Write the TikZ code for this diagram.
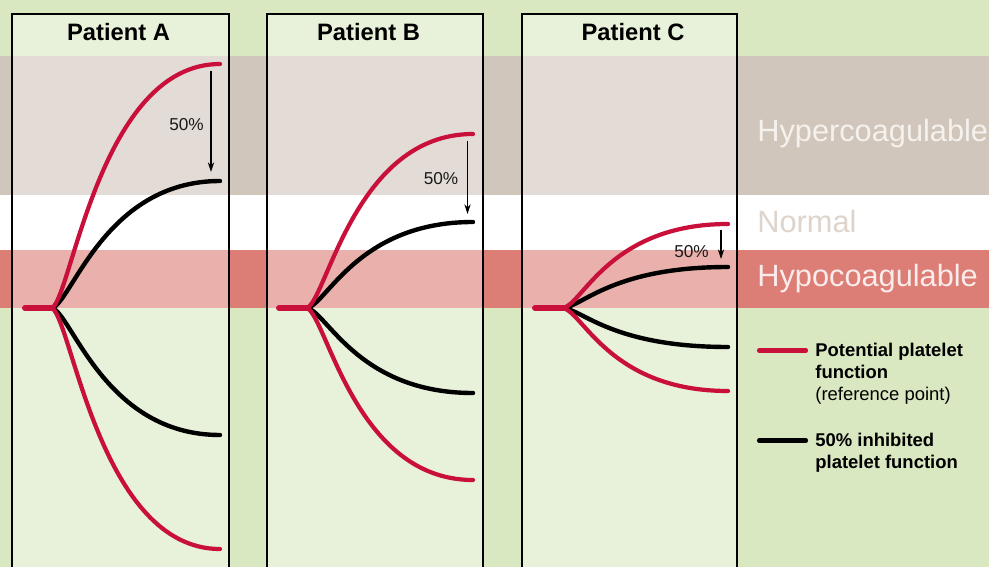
\documentclass[tikz,border=0pt]{standalone}
\usepackage{fontspec}
\setmainfont{Liberation Sans}
\usetikzlibrary{arrows.meta}
\definecolor{bggreen}{RGB}{217,232,193}
\definecolor{hyperbg}{RGB}{209,198,188}
\definecolor{hypobg}{RGB}{220,125,118}
\definecolor{potred}{RGB}{200,16,58}
\definecolor{normtxt}{RGB}{222,212,203}
\definecolor{hypertxt}{RGB}{245,241,237}
\definecolor{hypotxt}{RGB}{250,236,234}

\begin{document}
\begin{tikzpicture}[x=0.02cm,y=-0.02cm,
    pot/.style={draw=potred,line width=2.4pt,line cap=round},
    inh/.style={draw=black,line width=2.5pt,line cap=round},
    stem/.style={draw=potred,line width=3.4pt,line cap=round},
    panel/.style={draw=black,line width=0.6pt},
    zone/.style={anchor=base west,inner sep=0pt,font=\fontsize{17.5}{20}\selectfont},
    title/.style={anchor=base,inner sep=0pt,font=\fontsize{13.5}{16}\selectfont\bfseries},
    pct/.style={anchor=base,inner sep=0pt,text=black!90,font=\fontsize{9.8}{11}\selectfont},
    legtxt/.style={anchor=base west,inner sep=0pt,font=\fontsize{10.5}{12}\selectfont\bfseries},
    drop/.style={draw=black,line width=0.6pt,-{Stealth[length=5.5pt,width=3.6pt]}}]
    \useasboundingbox (0,0) rectangle (989,567);
    % Zones
    \fill[bggreen] (0,0) rectangle (989,567);
    \fill[hyperbg] (0,56) rectangle (989,195);
    \fill[white] (0,195) rectangle (989,250);
    \fill[hypobg] (0,250) rectangle (989,308);
    \node[zone,text=hypertxt] (hyper) at (757,142) {Hypercoagulable};
    \node[zone,text=normtxt] (normal) at (757,233) {Normal};
    \node[zone,text=hypotxt] (hypo) at (757,286) {Hypocoagulable};
    % Panneaux
    \fill[white,opacity=0.4] (12,14) rectangle (229,567);
    \fill[white,opacity=0.4] (267,14) rectangle (483,567);
    \fill[white,opacity=0.4] (522,14) rectangle (737,567);
    \draw[panel] (12,567) |- (229,14) -- (229,567);
    \draw[panel] (267,567) |- (483,14) -- (483,567);
    \draw[panel] (522,567) |- (737,14) -- (737,567);
    \node[title] (tA) at (118.5,41) {Patient A};
    \node[title] (tB) at (368.5,41) {Patient B};
    \node[title] (tC) at (633,41) {Patient C};
    % Patient A
    \coordinate (As) at (25,308);
    \coordinate (A0) at (52,308);
    \coordinate (Aru) at (220,64);
    \coordinate (Abu) at (220,181);
    \coordinate (Abd) at (220,435);
    \coordinate (Ard) at (220,549);
    \draw[inh] (A0) .. controls +(20,-6) and +(-115,0) .. (Abu);
    \draw[inh] (A0) .. controls +(20,6) and +(-115,0) .. (Abd);
    \draw[pot] (A0) .. controls +(20,-12) and +(-120,0) .. (Aru);
    \draw[pot] (A0) .. controls +(20,12) and +(-120,0) .. (Ard);
    \draw[stem] (As) -- (A0);
    % Patient B
    \coordinate (Bs) at (279,308);
    \coordinate (B0) at (307,308);
    \coordinate (Bru) at (473,134);
    \coordinate (Bbu) at (473,222);
    \coordinate (Bbd) at (473,393);
    \coordinate (Brd) at (473,480);
    \draw[inh] (B0) .. controls +(20,-4) and +(-115,0) .. (Bbu);
    \draw[inh] (B0) .. controls +(20,4) and +(-115,0) .. (Bbd);
    \draw[pot] (B0) .. controls +(20,-9) and +(-118,0) .. (Bru);
    \draw[pot] (B0) .. controls +(20,9) and +(-118,0) .. (Brd);
    \draw[stem] (Bs) -- (B0);
    % Patient C
    \coordinate (Cs) at (535,308);
    \coordinate (C0) at (563,308);
    \coordinate (Cru) at (728,224);
    \coordinate (Cbu) at (728,267);
    \coordinate (Cbd) at (728,347);
    \coordinate (Crd) at (728,391);
    \draw[inh] (C0) .. controls +(20,-2) and +(-115,0) .. (Cbu);
    \draw[inh] (C0) .. controls +(20,2) and +(-115,0) .. (Cbd);
    \draw[pot] (C0) .. controls +(20,-4) and +(-118,0) .. (Cru);
    \draw[pot] (C0) .. controls +(20,4) and +(-118,0) .. (Crd);
    \draw[stem] (Cs) -- (C0);
    % Fleches 50%
    \coordinate (aAt) at (211,71);
    \coordinate (aAb) at (211,172);
    \coordinate (aBt) at (467.5,141);
    \coordinate (aBb) at (467.5,214);
    \coordinate (aCt) at (721,230);
    \coordinate (aCb) at (721,259);
    \draw[drop] (aAt) -- (aAb);
    \draw[drop] (aBt) -- (aBb);
    \draw[drop] (aCt) -- (aCb);
    \node[pct] (pA) at (186.5,131) {50\%};
    \node[pct] (pB) at (441,185) {50\%};
    \node[pct] (pC) at (691.5,257) {50\%};
    % Legende
    \coordinate (lp1) at (759,350.5);
    \coordinate (lp2) at (806,350.5);
    \coordinate (li1) at (759,440.5);
    \coordinate (li2) at (806,440.5);
    \draw[pot,line width=2.3pt] (lp1) -- (lp2);
    \draw[inh,line width=2.3pt] (li1) -- (li2);
    \node[legtxt] (lpa) at (815,356) {Potential platelet};
    \node[legtxt] (lpb) at (815,378) {function};
    \node[legtxt,font=\fontsize{10.5}{12}\selectfont] (lpc) at (815,400) {(reference point)};
    \node[legtxt] (lia) at (815,446.5) {50\% inhibited};
    \node[legtxt] (lib) at (815,468) {platelet function};
\end{tikzpicture}
\end{document}
